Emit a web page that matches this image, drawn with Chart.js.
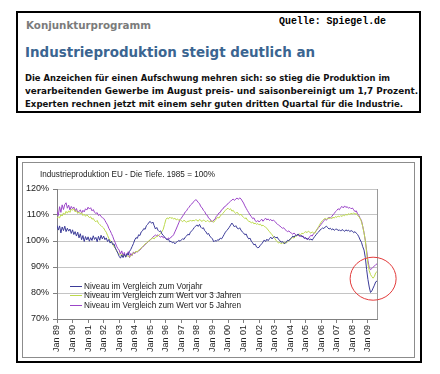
<!DOCTYPE html>
<html><head><meta charset="utf-8">
<script src="https://cdn.jsdelivr.net/npm/chart.js@4.4.1/dist/chart.umd.min.js"></script>
<style>
html,body{margin:0;padding:0;background:#fff;}
body{width:440px;height:374px;position:relative;overflow:hidden;}
.box{position:absolute;box-sizing:border-box;}
.t{position:absolute;white-space:nowrap;transform-origin:0 50%;line-height:1.2;}
.hd{font-family:"DejaVu Sans",Verdana,sans-serif;font-weight:bold;}
.ch{font-family:"Liberation Sans",Arial,sans-serif;color:#222;font-size:9.5px;}
.lg{position:absolute;height:1px;}
#wrap{position:absolute;left:23px;top:163px;width:392px;height:195px;}
</style></head>
<body>
<div class="box" style="left:16px;top:11px;width:405px;height:102px;border:2px solid #000;"></div>
<div class="t hd" data-w="125" data-cy="25" style="left:26px;font-size:10.5px;color:#7b7b7b;">Konjunkturprogramm</div>
<div class="t" data-w="107" data-cy="22" style="left:279px;font-family:'Liberation Mono','Courier New',monospace;font-weight:bold;font-size:10px;color:#000;">Quelle: Spiegel.de</div>
<div class="t hd" data-w="290" data-cy="53" style="left:25px;font-size:14.5px;color:#3b6591;">Industrieproduktion steigt deutlich an</div>
<div class="t hd" data-w="365" data-cy="77.5" style="left:25px;font-size:9.5px;color:#111;">Die Anzeichen für einen Aufschwung mehren sich: so stieg die Produktion im</div>
<div class="t hd" data-w="393" data-cy="91" style="left:25px;font-size:9.5px;color:#111;">verarbeitenden Gewerbe im August preis- und saisonbereinigt um 1,7 Prozent.</div>
<div class="t hd" data-w="378" data-cy="104" style="left:25px;font-size:9.5px;color:#111;">Experten rechnen jetzt mit einem sehr guten dritten Quartal für die Industrie.</div>

<div class="box" style="left:16px;top:156px;width:406px;height:207px;border:2px solid #000;"></div>
<div class="box" style="left:22px;top:162px;width:393px;height:196px;border:1px solid #8c8c8c;"></div>
<div id="wrap"><canvas id="c" width="392" height="195"></canvas></div>
<div class="t ch" id="ctitle" data-w="175" data-cy="174" style="left:40px;"></div>
<div id="legend"></div>

<script>
const chartTitle = "Industrieproduktion EU - Die Tiefe. 1985 = 100%";
const seriesNames = [
  "Niveau im Vergleich zum Vorjahr",
  "Niveau im Vergleich zum Wert vor 3 Jahren",
  "Niveau im Vergleich zum Wert vor 5 Jahren"
];
const tickLabels = ["Jan 89","Jan 90","Jan 91","Jan 92","Jan 93","Jan 94","Jan 95","Jan 96","Jan 97","Jan 98","Jan 99",
  "Jan 00","Jan 01","Jan 02","Jan 03","Jan 04","Jan 05","Jan 06","Jan 07","Jan 08","Jan 09"];
const yTicks = [70, 80, 90, 100, 110, 120];

// monthly values, Jan 1989 .. Aug 2009 (one row per year)
const vorjahr = [
  106.0,104.2,105.8,103.1,105.4,104.0,105.7,103.6,104.9,103.8,104.6,102.9,
  104.3,102.5,103.6,101.9,103.4,101.2,102.8,100.5,102.1,99.8,101.7,100.4,
  101.6,99.9,101.3,100.2,102.0,100.6,101.4,99.7,101.8,100.3,102.2,100.8,
  101.9,100.5,101.2,99.8,100.6,99.2,99.9,98.6,98.9,97.3,96.4,95.2,
  94.1,93.4,94.6,93.6,94.9,93.8,95.2,94.6,96.0,96.8,97.9,99.0,
  100.4,101.3,101.0,102.4,102.1,103.5,103.9,104.8,104.5,105.9,106.4,107.2,
  107.5,106.8,107.3,105.9,104.6,105.2,104.1,103.6,103.9,102.7,102.2,101.5,
  101.0,100.4,100.8,99.7,99.9,99.3,99.6,98.9,99.5,99.8,100.2,99.9,
  100.4,100.9,100.6,101.5,101.9,102.6,102.3,103.4,103.9,104.5,105.2,105.7,
  106.2,105.6,106.4,105.3,104.8,105.1,104.0,103.5,102.6,102.9,101.8,101.4,
  100.8,99.7,100.2,99.9,100.5,100.3,101.1,100.8,101.6,102.5,103.4,104.0,
  104.6,105.3,106.1,106.9,106.2,105.4,105.9,105.0,104.6,105.1,104.2,103.5,
  103.1,102.4,102.7,101.5,100.8,101.1,99.9,99.3,98.5,98.8,97.7,97.4,
  97.6,98.4,98.9,99.6,100.4,99.8,100.7,100.1,100.9,101.5,100.8,101.4,
  101.7,101.2,101.5,100.6,100.2,99.5,99.8,99.2,99.0,99.6,100.3,100.1,
  100.8,101.2,101.9,101.5,102.2,102.0,102.7,102.3,101.8,102.1,101.4,101.0,
  101.3,100.7,101.0,100.4,100.8,100.3,101.1,101.8,102.4,103.1,103.5,104.2,
  104.6,105.0,104.8,105.4,105.7,105.1,104.6,104.9,104.3,104.7,104.1,104.5,
  104.6,104.0,104.3,103.8,104.4,104.1,103.7,104.3,103.9,104.2,103.6,104.0,
  103.8,103.2,103.6,103.0,102.5,101.6,100.4,99.5,97.8,96.5,93.6,89.0,
  85.2,82.3,80.2,80.8,81.9,83.0,84.3,84.6
];
const vor3Jahren = [
  108.7,109.3,108.9,110.1,109.6,110.8,110.2,111.4,110.7,111.6,111.0,112.3,
  111.8,112.4,111.2,111.7,110.6,111.1,110.4,110.9,109.8,110.3,109.5,110.1,
  109.6,109.0,109.3,108.4,108.7,107.8,107.4,107.9,106.8,106.3,105.9,105.4,
  105.0,104.1,103.4,102.2,101.0,100.3,99.6,99.0,97.8,97.2,96.1,95.5,
  95.0,94.6,94.9,94.2,94.5,94.0,94.4,94.1,93.9,94.3,94.7,95.4,
  95.6,96.0,95.8,96.5,96.7,97.4,97.8,98.3,98.9,99.2,99.6,100.2,
  100.4,100.9,101.2,100.8,101.5,101.7,101.9,102.4,102.9,103.6,104.5,106.3,
  108.2,108.9,108.5,109.2,108.7,109.0,108.4,108.8,108.1,108.5,107.9,108.3,
  107.8,107.4,108.0,107.6,107.2,107.7,107.5,108.1,107.6,108.0,107.7,108.2,
  108.0,107.6,108.3,107.9,107.5,108.1,107.8,107.4,107.9,107.6,107.3,107.8,
  107.6,107.2,107.9,108.5,109.2,108.8,109.6,110.1,110.6,111.2,111.8,112.3,
  112.6,112.1,112.4,111.5,111.8,111.0,110.6,111.1,110.4,110.0,110.3,109.6,
  109.1,108.6,108.9,108.0,107.6,107.4,107.0,107.3,106.6,106.9,106.4,106.7,
  106.2,106.5,105.8,106.1,105.6,105.3,104.9,104.2,103.6,103.0,102.4,101.7,
  101.0,100.3,99.8,99.2,99.5,98.9,99.3,99.0,99.6,99.2,99.7,100.2,
  100.6,100.9,101.4,101.1,101.8,102.0,102.3,102.7,102.4,103.0,102.8,103.3,
  103.6,103.2,103.8,103.4,103.0,103.5,103.1,103.0,103.9,104.8,105.6,106.5,
  107.3,107.9,108.4,108.7,108.3,108.9,108.6,109.0,108.5,109.2,108.8,109.4,
  109.1,109.6,109.3,109.8,109.4,110.0,109.7,110.3,109.9,110.5,110.2,110.6,
  110.4,110.8,110.3,110.6,109.8,109.4,108.6,107.4,105.6,103.1,100.2,95.4,
  91.2,88.6,87.1,86.3,85.7,86.4,87.8,88.2
];
const vor5Jahren = [
  111.3,109.8,113.2,111.0,113.9,112.1,114.0,114.7,112.6,113.8,111.9,113.3,
  112.4,113.1,111.6,112.5,111.0,111.3,112.0,110.7,111.8,111.2,112.4,111.9,
  113.0,112.3,112.8,111.6,112.1,111.0,110.6,110.9,109.8,110.2,109.4,109.0,
  108.7,107.9,107.0,106.2,104.9,104.0,102.9,101.8,100.4,99.3,98.0,97.1,
  96.5,95.0,96.2,94.3,95.6,93.8,94.6,95.9,93.6,95.2,94.4,95.8,
  95.1,96.0,95.7,96.3,96.5,97.2,97.6,98.1,98.7,99.0,99.5,100.0,
  100.4,101.0,101.5,101.9,102.3,102.0,102.4,101.8,101.5,101.9,101.2,101.4,
  101.0,100.6,101.2,100.9,101.5,101.8,102.4,103.5,104.6,105.8,107.0,108.2,
  108.8,109.6,110.3,111.2,111.6,112.5,113.0,113.8,114.2,114.9,115.3,115.9,
  115.6,114.8,114.4,113.2,112.8,111.8,111.3,110.2,109.9,108.8,108.5,107.6,
  107.4,108.1,108.4,109.5,110.0,110.8,111.0,112.0,112.3,113.1,113.3,114.0,
  114.3,114.9,115.3,115.8,116.1,115.6,116.2,116.5,116.0,116.6,116.2,115.4,
  114.6,113.5,112.6,111.7,110.9,110.0,109.4,108.6,108.9,107.8,107.4,107.9,
  107.3,107.8,108.4,107.6,108.2,108.8,108.1,108.5,107.9,108.3,107.7,108.1,
  107.6,107.0,106.6,106.1,105.8,105.3,104.9,105.1,104.4,104.0,103.6,103.9,
  103.3,103.0,102.6,103.1,102.5,102.2,102.4,101.8,102.1,101.6,101.9,101.3,
  101.0,100.5,100.8,101.6,102.2,101.9,102.8,103.3,103.9,104.6,105.2,105.8,
  106.5,107.1,107.9,108.3,108.0,108.7,109.1,108.8,109.4,110.0,110.6,111.3,
  111.8,112.4,112.0,112.9,113.3,112.7,113.5,112.9,113.2,112.6,112.9,112.4,
  112.7,112.0,111.3,111.6,110.5,109.8,108.7,107.9,105.6,103.2,100.1,96.4,
  92.6,89.8,89.0,89.4,89.9,90.4,90.9,91.2
];
const seriesColors = ["#3b3b98", "#bcd94c", "#9b45c8"];
const highlight = { x: 244, y: 85.5 }; // centre of the red circle, in data units

document.getElementById('ctitle').textContent = chartTitle;
const lg = document.getElementById('legend');
const legendRows = [{cy:285.5,w:118.5},{cy:295,w:157},{cy:304.5,w:157}];
seriesNames.forEach((n,i)=>{
  const l = document.createElement('div');
  l.className='lg';
  l.style.cssText = `left:70px;top:${Math.round(legendRows[i].cy)}px;width:12px;background:${seriesColors[i]};`;
  lg.appendChild(l);
  const t = document.createElement('div');
  t.className='t ch';
  t.dataset.w = legendRows[i].w; t.dataset.cy = legendRows[i].cy;
  t.style.left='83.5px';
  t.textContent = n;
  lg.appendChild(t);
});

function fit(){
  document.querySelectorAll('.t').forEach(el=>{
    el.style.transform='none';
    const w = el.getBoundingClientRect().width;
    const h = el.getBoundingClientRect().height;
    const k = parseFloat(el.dataset.w)/w;
    el.style.top = (parseFloat(el.dataset.cy) - h/2) + 'px';
    el.style.transform = `scaleX(${k})`;
  });
}
fit();

const toPts = arr => arr.map((v,i)=>({x:i, y:v}));
const lastIndex = vorjahr.length - 1;

const framePlugin = {
  id:'frame',
  afterDraw(chart){
    const {ctx, chartArea:a, scales} = chart;
    ctx.save();
    ctx.strokeStyle = '#9a9a9a'; ctx.lineWidth = 1;
    ctx.beginPath();
    ctx.moveTo(Math.round(a.right)+0.5, a.top); ctx.lineTo(Math.round(a.right)+0.5, a.bottom);
    ctx.stroke();
    const cx = scales.x.getPixelForValue(highlight.x);
    const cy = scales.y.getPixelForValue(highlight.y);
    ctx.strokeStyle = '#e23a3a'; ctx.lineWidth = 1;
    ctx.beginPath();
    ctx.ellipse(cx, cy, 23, 21.5, 0, 0, Math.PI*2);
    ctx.stroke();
    ctx.restore();
  }
};

new Chart(document.getElementById('c'), {
  type:'line',
  data:{
    datasets: [vorjahr, vor3Jahren, vor5Jahren].map((d,i)=>({
      label: seriesNames[i],
      data: toPts(d),
      borderColor: seriesColors[i],
      backgroundColor: seriesColors[i],
      borderWidth: 1,
      pointRadius: 0,
      tension: 0,
      fill: false
    }))
  },
  options:{
    responsive:false,
    animation:false,
    devicePixelRatio:1,
    layout:{padding:{left:0,right:38,top:26,bottom:0}},
    plugins:{legend:{display:false}, title:{display:false}, tooltip:{enabled:false}},
    scales:{
      x:{
        type:'linear', min:0, max:lastIndex,
        afterFit(s){ s.height = 39; },
        afterBuildTicks(s){ s.ticks = tickLabels.map((_,i)=>({value:i*12})); },
        ticks:{
          autoSkip:false, maxRotation:90, minRotation:90, padding:2,
          color:'#222', font:{family:'"Liberation Sans", Arial, sans-serif', size:9},
          callback:(v)=> tickLabels[Math.round(v/12)]
        },
        grid:{drawOnChartArea:false, drawTicks:true, tickLength:4, tickColor:'#808080'},
        border:{color:'#808080'}
      },
      y:{
        min:70, max:120,
        afterFit(s){ s.width = 34; },
        afterBuildTicks(s){ s.ticks = yTicks.map(v=>({value:v})); },
        ticks:{
          padding:4, color:'#222', font:{family:'"Liberation Sans", Arial, sans-serif', size:9},
          callback:(v)=> v + '%'
        },
        grid:{color:'#c4c4c4', tickLength:4, tickColor:'#808080'},
        border:{color:'#808080'}
      }
    }
  },
  plugins:[framePlugin]
});
</script>
</body></html>
